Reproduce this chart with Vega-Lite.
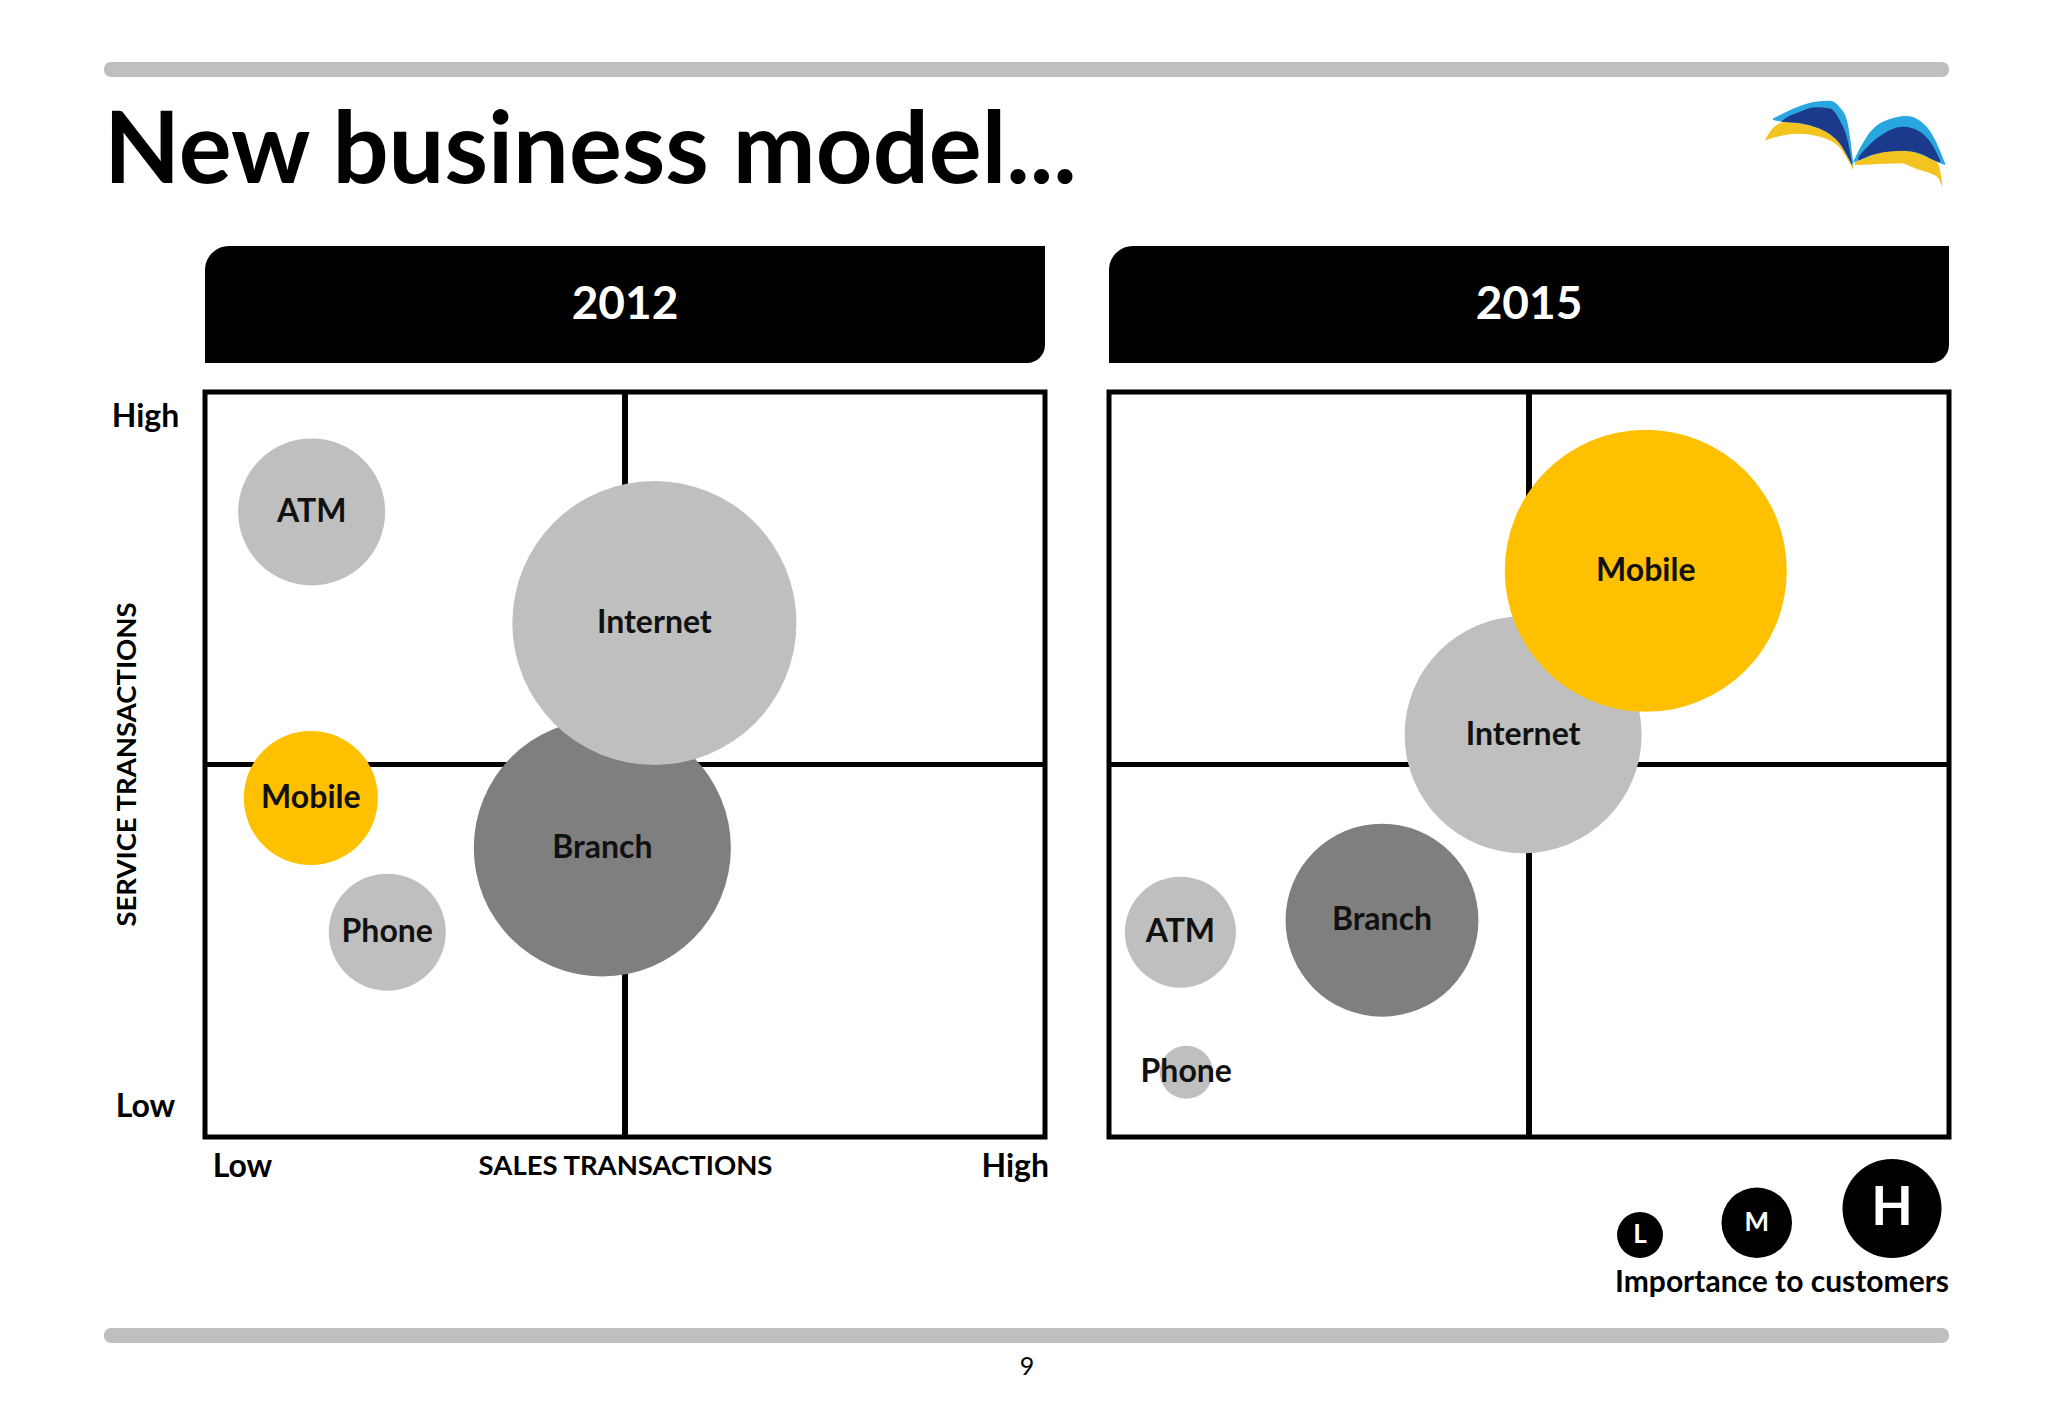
{
  "$schema": "https://vega.github.io/schema/vega-lite/v6.json",
  "usermeta": {"embedOptions": {"actions": false}},
  "background": "white",
  "padding": {"left": 104, "top": 62, "right": 0, "bottom": 0},
  "autosize": {"type": "pad"},
  "config": {
    "view": {"stroke": null},
    "font": "Lato",
    "text": {"font": "Lato"},
    "title": {"font": "Lato"},
    "axis": {"labelFont": "Lato", "titleFont": "Lato"}
  },
  "datasets": {
    "channels": [
      {"year": 2012, "channel": "ATM", "x": 12.7, "y": 83.9, "w": 49},
      {"year": 2012, "channel": "Mobile", "x": 12.6, "y": 45.5, "w": 44.7},
      {"year": 2012, "channel": "Phone", "x": 21.7, "y": 27.5, "w": 39},
      {"year": 2012, "channel": "Branch", "x": 47.3, "y": 38.8, "w": 85.7},
      {"year": 2012, "channel": "Internet", "x": 53.5, "y": 69.0, "w": 94.7},
      {"year": 2015, "channel": "ATM", "x": 8.5, "y": 27.5, "w": 37},
      {"year": 2015, "channel": "Phone", "x": 9.2, "y": 8.7, "w": 17.7},
      {"year": 2015, "channel": "Branch", "x": 32.5, "y": 29.1, "w": 64.3},
      {"year": 2015, "channel": "Internet", "x": 49.3, "y": 54.0, "w": 79},
      {"year": 2015, "channel": "Mobile", "x": 63.9, "y": 76.0, "w": 94}
    ],
    "levels": [
      {"level": "L", "w": 15.3},
      {"level": "M", "w": 23.5},
      {"level": "H", "w": 33}
    ],
    "logo": [
      {"color": "yellow", "wing": "left", "u": 1.1, "v": 37.3, "v2": 37.6},
      {"color": "yellow", "wing": "left", "u": 5.5, "v": 30.2, "v2": 36.0},
      {"color": "yellow", "wing": "left", "u": 12.1, "v": 26.7, "v2": 34.3},
      {"color": "yellow", "wing": "left", "u": 20.3, "v": 27.4, "v2": 33.6},
      {"color": "yellow", "wing": "left", "u": 28.6, "v": 29.6, "v2": 34.7},
      {"color": "yellow", "wing": "left", "u": 36.8, "v": 33.9, "v2": 37.5},
      {"color": "yellow", "wing": "left", "u": 42.3, "v": 39.5, "v2": 41.8},
      {"color": "yellow", "wing": "left", "u": 46.2, "v": 46.4, "v2": 48.2},
      {"color": "yellow", "wing": "left", "u": 49.5, "v": 52.7, "v2": 55.0},
      {"color": "yellow", "wing": "right", "u": 50.5, "v": 50.1, "v2": 52.1},
      {"color": "yellow", "wing": "right", "u": 58.8, "v": 46.9, "v2": 51.8},
      {"color": "yellow", "wing": "right", "u": 68.0, "v": 43.2, "v2": 51.4},
      {"color": "yellow", "wing": "right", "u": 75.3, "v": 43.7, "v2": 51.1},
      {"color": "yellow", "wing": "right", "u": 84.5, "v": 44.2, "v2": 54.4},
      {"color": "yellow", "wing": "right", "u": 91.8, "v": 48.2, "v2": 57.0},
      {"color": "yellow", "wing": "right", "u": 96.2, "v": 51.2, "v2": 59.8},
      {"color": "yellow", "wing": "right", "u": 98.4, "v": 62.7, "v2": 65.1},
      {"color": "light", "wing": "left", "u": 5.5, "v": 24.5, "v2": 25.4},
      {"color": "light", "wing": "left", "u": 12.1, "v": 21.0, "v2": 26.7},
      {"color": "light", "wing": "left", "u": 20.3, "v": 17.2, "v2": 27.4},
      {"color": "light", "wing": "left", "u": 28.6, "v": 14.6, "v2": 29.6},
      {"color": "light", "wing": "left", "u": 36.8, "v": 14.1, "v2": 33.9},
      {"color": "light", "wing": "left", "u": 42.3, "v": 18.0, "v2": 39.5},
      {"color": "light", "wing": "left", "u": 46.2, "v": 26.0, "v2": 46.4},
      {"color": "light", "wing": "left", "u": 49.5, "v": 50.3, "v2": 52.7},
      {"color": "light", "wing": "right", "u": 49.5, "v": 50.3, "v2": 50.6},
      {"color": "light", "wing": "right", "u": 57.0, "v": 35.3, "v2": 47.6},
      {"color": "light", "wing": "right", "u": 66.1, "v": 26.4, "v2": 43.6},
      {"color": "light", "wing": "right", "u": 79.0, "v": 23.1, "v2": 43.8},
      {"color": "light", "wing": "right", "u": 89.9, "v": 29.4, "v2": 47.2},
      {"color": "light", "wing": "right", "u": 96.3, "v": 41.2, "v2": 50.4},
      {"color": "light", "wing": "right", "u": 100, "v": 51.1, "v2": 52.1},
      {"color": "dark", "wing": "left", "u": 10.4, "v": 26.0, "v2": 26.6},
      {"color": "dark", "wing": "left", "u": 12.1, "v": 24.6, "v2": 26.7},
      {"color": "dark", "wing": "left", "u": 20.3, "v": 20.5, "v2": 27.4},
      {"color": "dark", "wing": "left", "u": 28.6, "v": 17.9, "v2": 29.6},
      {"color": "dark", "wing": "left", "u": 36.8, "v": 18.6, "v2": 33.9},
      {"color": "dark", "wing": "left", "u": 42.3, "v": 25.9, "v2": 39.5},
      {"color": "dark", "wing": "left", "u": 46.2, "v": 36.1, "v2": 46.4},
      {"color": "dark", "wing": "left", "u": 48.9, "v": 51.2, "v2": 52.1},
      {"color": "dark", "wing": "right", "u": 52.4, "v": 47.2, "v2": 49.4},
      {"color": "dark", "wing": "right", "u": 62.5, "v": 36.3, "v2": 45.4},
      {"color": "dark", "wing": "right", "u": 77.1, "v": 29.4, "v2": 43.7},
      {"color": "dark", "wing": "right", "u": 86.3, "v": 32.4, "v2": 45.2},
      {"color": "dark", "wing": "right", "u": 93.6, "v": 41.2, "v2": 49.1},
      {"color": "dark", "wing": "right", "u": 97.3, "v": 49.1, "v2": 50.8}
    ]
  },
  "columns": 4,
  "spacing": 0,
  "bounds": "flush",
  "align": "each",
  "resolve": {"scale": {"x": "independent", "y": "independent", "color": "independent", "size": "independent"}},
  "concat": [
    {
      "width": 101, "height": 15,
      "data": {"values": [{}]},
      "mark": {"type": "rect", "color": "#BFBFBF", "cornerRadiusTopLeft": 7, "cornerRadiusBottomLeft": 7},
      "encoding": {},
      "title": {"text": "New business model...", "orient": "bottom", "anchor": "start", "baseline": "alphabetic", "offset": 106, "fontSize": 99, "fontWeight": "bold", "font": "Lato", "color": "black"}
    },
    {"width": 840, "height": 15, "data": {"values": [{}]}, "mark": {"type": "rect", "color": "#BFBFBF"}, "encoding": {}},
    {"width": 64, "height": 15, "data": {"values": [{}]}, "mark": {"type": "rect", "color": "#BFBFBF"}, "encoding": {}},
    {"width": 840, "height": 15, "data": {"values": [{}]}, "mark": {"type": "rect", "color": "#BFBFBF", "cornerRadiusTopRight": 7, "cornerRadiusBottomRight": 7}, "encoding": {}},

    {"width": 1, "height": 169, "data": {"values": []}, "mark": "text", "encoding": {}},
    {"width": 1, "height": 1, "data": {"values": []}, "mark": "text", "encoding": {}},
    {"width": 1, "height": 1, "data": {"values": []}, "mark": "text", "encoding": {}},
    {
      "width": 840, "height": 169,
      "data": {"name": "logo"},
      "layer": [
        {
          "transform": [{"filter": "datum.color == 'yellow'"}],
          "mark": {"type": "area", "color": "#F3C41F", "interpolate": "monotone", "opacity": 1},
          "encoding": {
            "x": {"field": "u", "type": "quantitative", "scale": {"domain": [0, 100], "range": [654, 836], "nice": false, "zero": false}, "axis": null},
            "y": {"field": "v", "type": "quantitative", "stack": null, "scale": {"domain": [0, 100], "reverse": true, "nice": false, "zero": false}, "axis": null},
            "y2": {"field": "v2"},
            "detail": {"field": "wing"}
          }
        },
        {
          "transform": [{"filter": "datum.color == 'light'"}],
          "mark": {"type": "area", "color": "#27A6E0", "interpolate": "monotone", "opacity": 1},
          "encoding": {
            "x": {"field": "u", "type": "quantitative", "axis": null},
            "y": {"field": "v", "type": "quantitative", "stack": null, "axis": null},
            "y2": {"field": "v2"},
            "detail": {"field": "wing"}
          }
        },
        {
          "transform": [{"filter": "datum.color == 'dark'"}],
          "mark": {"type": "area", "color": "#1B3A8C", "interpolate": "monotone", "opacity": 1},
          "encoding": {
            "x": {"field": "u", "type": "quantitative", "axis": null},
            "y": {"field": "v", "type": "quantitative", "stack": null, "axis": null},
            "y2": {"field": "v2"},
            "detail": {"field": "wing"}
          }
        }
      ]
    },

    {"width": 1, "height": 1, "data": {"values": []}, "mark": "text", "encoding": {}},
    {
      "width": 840, "height": 117,
      "data": {"values": [{"year": "2012"}]},
      "layer": [
        {"mark": {"type": "rect", "color": "black", "cornerRadiusTopLeft": 24, "cornerRadiusBottomRight": 18}, "encoding": {}},
        {"mark": {"type": "text", "color": "white", "font": "Lato", "fontWeight": "bold", "fontSize": 46}, "encoding": {"text": {"field": "year"}}}
      ]
    },
    {"width": 1, "height": 1, "data": {"values": []}, "mark": "text", "encoding": {}},
    {
      "width": 840, "height": 117,
      "data": {"values": [{"year": "2015"}]},
      "layer": [
        {"mark": {"type": "rect", "color": "black", "cornerRadiusTopLeft": 24, "cornerRadiusBottomRight": 18}, "encoding": {}},
        {"mark": {"type": "text", "color": "white", "font": "Lato", "fontWeight": "bold", "fontSize": 46}, "encoding": {"text": {"field": "year"}}}
      ]
    },

    {"width": 1, "height": 29, "data": {"values": []}, "mark": "text", "encoding": {}},
    {"width": 1, "height": 1, "data": {"values": []}, "mark": "text", "encoding": {}},
    {"width": 1, "height": 1, "data": {"values": []}, "mark": "text", "encoding": {}},
    {"width": 1, "height": 1, "data": {"values": []}, "mark": "text", "encoding": {}},

    {"width": 1, "height": 1, "data": {"values": []}, "mark": "text", "encoding": {}},
    {
      "width": 840, "height": 745,
      "data": {"name": "channels"},
      "transform": [{"filter": "datum.year == 2012"}],
      "view": {"stroke": "black", "strokeWidth": 5},
      "layer": [
        {
          "mark": {"type": "rule", "color": "black", "strokeWidth": 5},
          "encoding": {"x": {"datum": 50, "type": "quantitative", "title": null}}
        },
        {
          "mark": {"type": "rule", "color": "black", "strokeWidth": 5},
          "encoding": {"y": {"datum": 50, "type": "quantitative", "title": "SERVICE TRANSACTIONS"}}
        },
        {
          "mark": {"type": "circle", "opacity": 1, "strokeWidth": 0},
          "encoding": {
            "x": {
              "field": "x", "type": "quantitative",
              "scale": {"domain": [0, 100], "nice": false, "zero": false},
              "axis": {
                "values": [4.4, 50, 96.4],
                "labelExpr": "datum.value < 20 ? 'Low' : (datum.value > 80 ? 'High' : 'SALES TRANSACTIONS')",
                "title": null, "domain": false, "ticks": false, "tickSize": 0, "grid": false,
                "labelPadding": 29, "labelBaseline": "middle", "labelFont": "Lato", "labelFontWeight": "bold", "labelColor": "black",
                "labelFontSize": {"condition": {"test": "datum.value == 50", "value": 27.5}, "value": 32},
                "labelLimit": 0,
                "labelOverlap": false, "labelFlush": false, "labelBound": false
              }
            },
            "y": {
              "field": "y", "type": "quantitative",
              "scale": {"domain": [0, 100], "nice": false, "zero": false},
              "axis": {
                "values": [4.1, 96.7],
                "labelExpr": "datum.value > 50 ? 'High' : 'Low'",
                "title": "SERVICE TRANSACTIONS", "titleX": -78, "titleY": 372, "titleAngle": -90, "titleAlign": "center", "titleBaseline": "middle",
                "titleFontSize": 27.5, "titleFontWeight": "bold", "titleColor": "black", "titleFont": "Lato", "titleLimit": 0,
                "domain": false, "ticks": false, "tickSize": 0, "grid": false,
                "labelPadding": 60, "labelAlign": "center", "labelBaseline": "middle", "labelFontSize": 32, "labelFontWeight": "bold", "labelColor": "black", "labelFont": "Lato",
                "labelOverlap": false, "labelFlush": false, "labelBound": false
              }
            },
            "size": {"field": "w", "type": "quantitative", "scale": {"type": "pow", "exponent": 2, "domain": [0, 100], "range": [0, 90000]}, "legend": null},
            "color": {"field": "channel", "type": "nominal", "scale": {"domain": ["ATM", "Internet", "Mobile", "Branch", "Phone"], "range": ["#BFBFBF", "#BFBFBF", "#FFC000", "#7F7F7F", "#BFBFBF"]}, "legend": null}
          }
        },
        {
          "mark": {"type": "text", "font": "Lato", "fontWeight": "bold", "fontSize": 32, "color": "#111111"},
          "encoding": {
            "x": {"field": "x", "type": "quantitative", "title": null},
            "y": {"field": "y", "type": "quantitative", "title": "SERVICE TRANSACTIONS"},
            "text": {"field": "channel"}
          }
        }
      ]
    },
    {"width": 1, "height": 1, "data": {"values": []}, "mark": "text", "encoding": {}},
    {
      "width": 840, "height": 745,
      "data": {"name": "channels"},
      "transform": [{"filter": "datum.year == 2015"}],
      "view": {"stroke": "black", "strokeWidth": 5},
      "layer": [
        {
          "mark": {"type": "rule", "color": "black", "strokeWidth": 5},
          "encoding": {"x": {"datum": 50, "type": "quantitative", "axis": null}}
        },
        {
          "mark": {"type": "rule", "color": "black", "strokeWidth": 5},
          "encoding": {"y": {"datum": 50, "type": "quantitative", "axis": null}}
        },
        {
          "mark": {"type": "circle", "opacity": 1, "strokeWidth": 0},
          "encoding": {
            "x": {"field": "x", "type": "quantitative", "scale": {"domain": [0, 100], "nice": false, "zero": false}, "axis": null},
            "y": {"field": "y", "type": "quantitative", "scale": {"domain": [0, 100], "nice": false, "zero": false}, "axis": null},
            "size": {"field": "w", "type": "quantitative", "scale": {"type": "pow", "exponent": 2, "domain": [0, 100], "range": [0, 90000]}, "legend": null},
            "color": {"field": "channel", "type": "nominal", "scale": {"domain": ["ATM", "Internet", "Mobile", "Branch", "Phone"], "range": ["#BFBFBF", "#BFBFBF", "#FFC000", "#7F7F7F", "#BFBFBF"]}, "legend": null}
          }
        },
        {
          "mark": {"type": "text", "font": "Lato", "fontWeight": "bold", "fontSize": 32, "color": "#111111"},
          "encoding": {
            "x": {"field": "x", "type": "quantitative", "axis": null},
            "y": {"field": "y", "type": "quantitative", "axis": null},
            "text": {"field": "channel"}
          }
        }
      ]
    },

    {"width": 1, "height": 1, "data": {"values": []}, "mark": "text", "encoding": {}},
    {"width": 1, "height": 1, "data": {"values": []}, "mark": "text", "encoding": {}},
    {"width": 1, "height": 1, "data": {"values": []}, "mark": "text", "encoding": {}},
    {
      "width": 840, "height": 123,
      "data": {"name": "levels"},
      "title": {"text": "Importance to customers", "orient": "bottom", "anchor": "end", "baseline": "middle", "offset": 23, "fontSize": 30, "fontWeight": "bold", "font": "Lato", "color": "black"},
      "layer": [
        {
          "mark": {"type": "circle", "color": "black", "opacity": 1, "strokeWidth": 0},
          "encoding": {
            "x": {"field": "w", "type": "quantitative", "scale": {"domain": [15.3, 33], "range": [531, 783], "zero": false, "nice": false}, "axis": null},
            "y": {"field": "w", "type": "quantitative", "scale": {"domain": [15.3, 33], "range": [98, 71.5], "zero": false, "nice": false}, "axis": null},
            "size": {"field": "w", "type": "quantitative", "scale": {"type": "pow", "exponent": 2, "domain": [0, 100], "range": [0, 90000]}, "legend": null}
          }
        },
        {
          "mark": {"type": "text", "color": "white", "font": "Lato", "fontWeight": "bold"},
          "encoding": {
            "x": {"field": "w", "type": "quantitative", "axis": null},
            "y": {"field": "w", "type": "quantitative", "axis": null},
            "text": {"field": "level"},
            "size": {"condition": {"test": "datum.level == 'H'", "value": 54}, "value": 26}
          }
        }
      ]
    },

    {"width": 1, "height": 68, "data": {"values": []}, "mark": "text", "encoding": {}},
    {"width": 1, "height": 1, "data": {"values": []}, "mark": "text", "encoding": {}},
    {"width": 1, "height": 1, "data": {"values": []}, "mark": "text", "encoding": {}},
    {"width": 1, "height": 1, "data": {"values": []}, "mark": "text", "encoding": {}},

    {"width": 101, "height": 15, "data": {"values": [{}]}, "mark": {"type": "rect", "color": "#BFBFBF", "cornerRadiusTopLeft": 7, "cornerRadiusBottomLeft": 7}, "encoding": {}},
    {
      "width": 840, "height": 15,
      "data": {"values": [{}]},
      "mark": {"type": "rect", "color": "#BFBFBF"},
      "encoding": {},
      "title": {"text": "9", "orient": "bottom", "anchor": "middle", "baseline": "middle", "offset": 24, "dx": 402, "fontSize": 25, "fontWeight": "normal", "font": "Lato", "color": "black"}
    },
    {"width": 64, "height": 15, "data": {"values": [{}]}, "mark": {"type": "rect", "color": "#BFBFBF"}, "encoding": {}},
    {"width": 840, "height": 15, "data": {"values": [{}]}, "mark": {"type": "rect", "color": "#BFBFBF", "cornerRadiusTopRight": 7, "cornerRadiusBottomRight": 7}, "encoding": {}}
  ]
}
